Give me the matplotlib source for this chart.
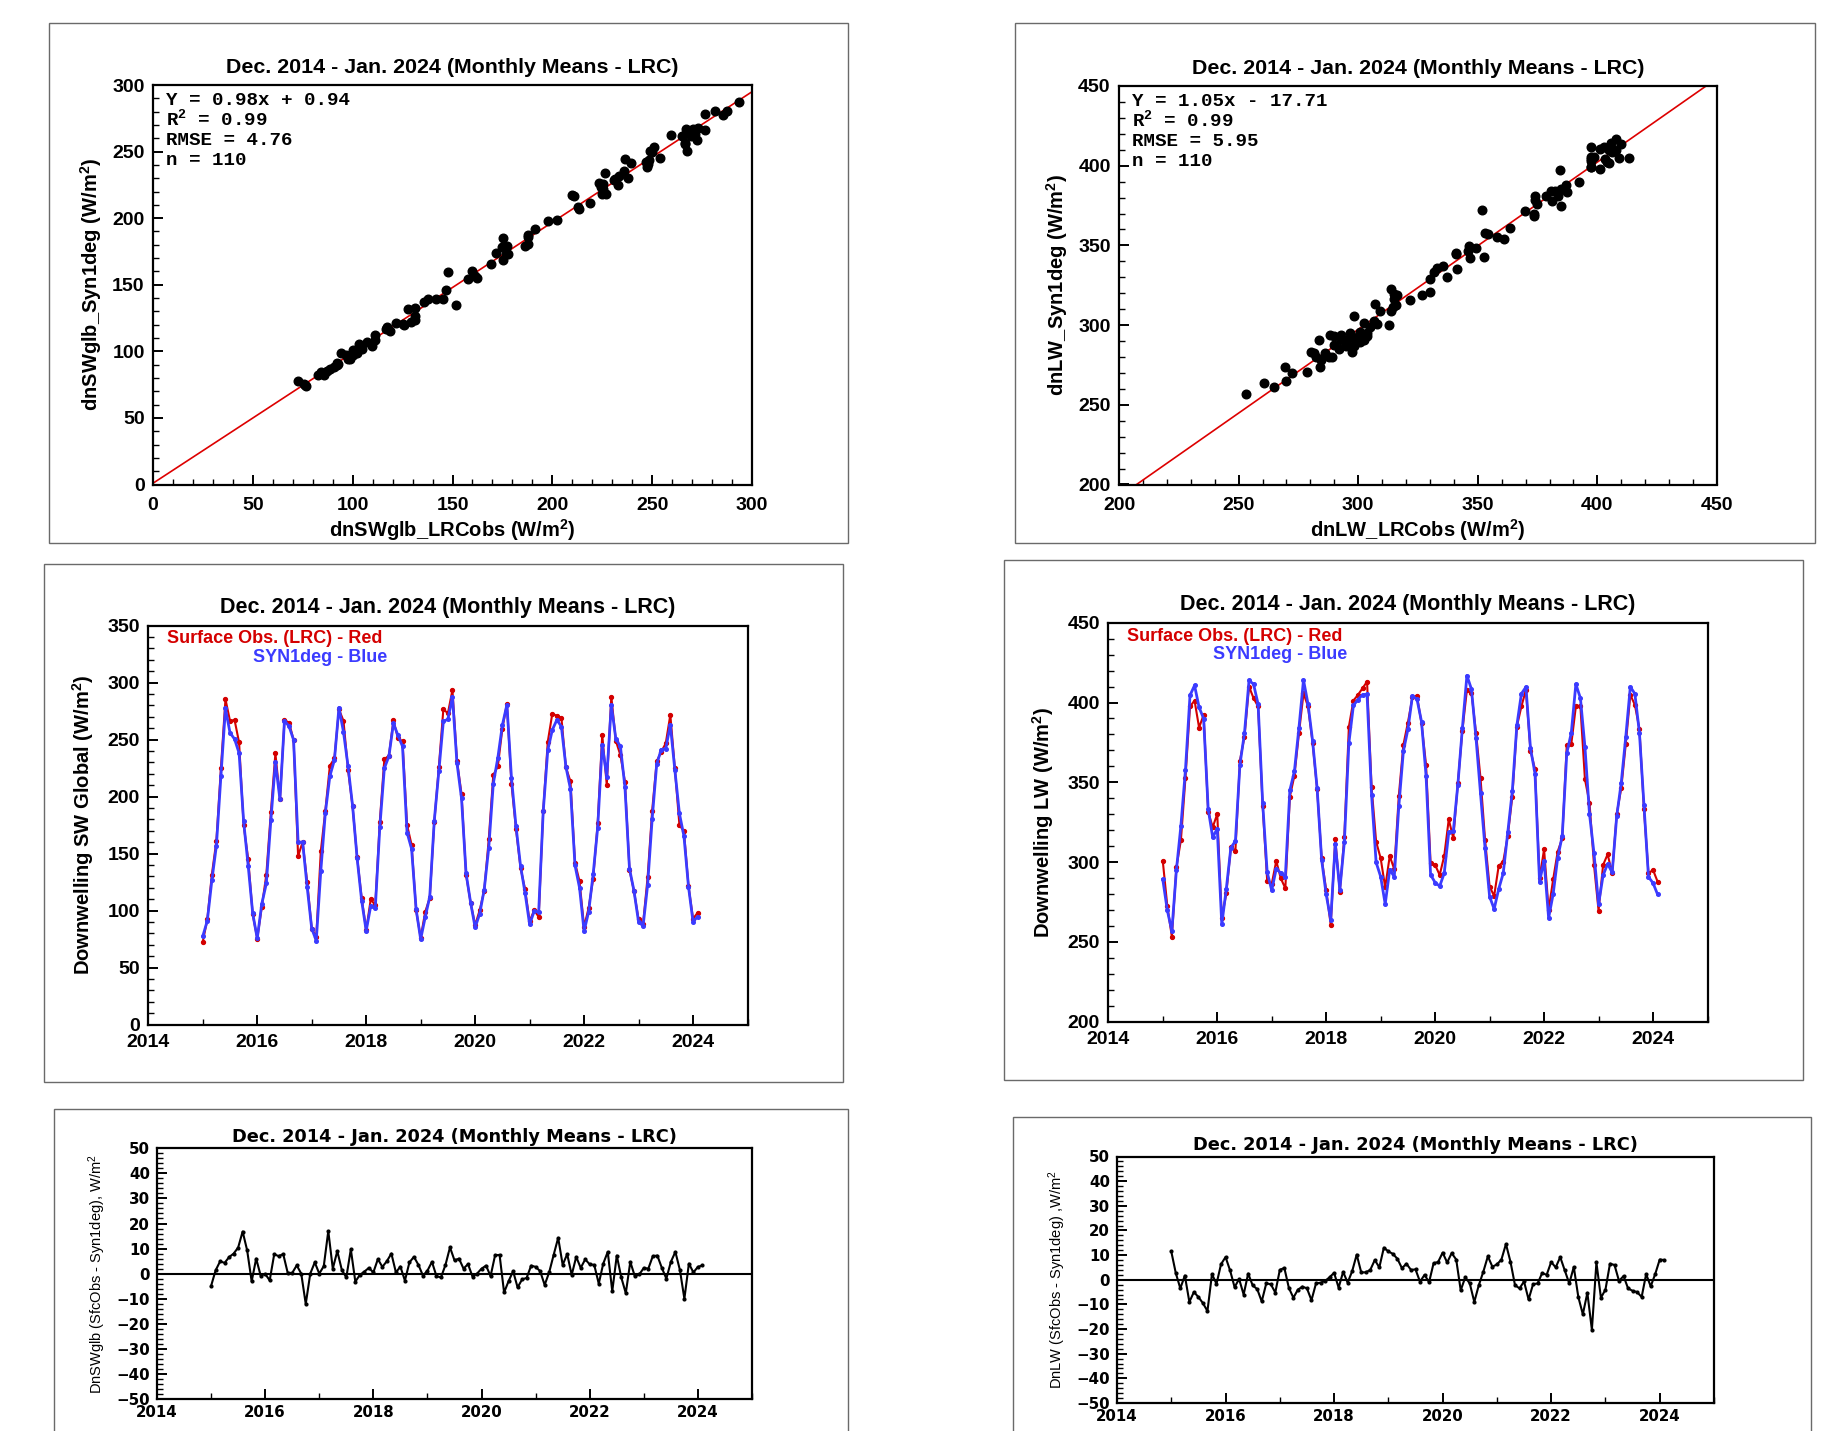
import numpy as np
import pandas as pd
import matplotlib
matplotlib.use('Agg')
import matplotlib.pyplot as plt
from matplotlib.patches import Rectangle
from matplotlib.ticker import MultipleLocator

plt.rcParams['font.family'] = ['Liberation Sans', 'DejaVu Sans']
plt.rcParams['font.weight'] = 'bold'
plt.rcParams['axes.titleweight'] = 'bold'
plt.rcParams['axes.labelweight'] = 'bold'
plt.rcParams['mathtext.default'] = 'regular'

# monthly means, Dec 2014 .. Jan 2024 (n = 110)
months = pd.period_range('2014-12', '2024-01', freq='M')
t = np.asarray(months.year + months.month / 12.0)

# downwelling SW global, surface obs (LRC), W/m2
sw_obs = [72.5, 92.3, 131.4, 161.1, 224.9, 285.3, 266.3, 267.2, 247.4, 175.0,
          145.4, 96.7, 75.4, 103.1, 131.4, 186.2, 237.8, 197.8, 266.9, 264.9,
          249.7, 147.7, 160.0, 125.0, 84.2, 76.6, 151.8, 187.6, 227.0, 233.4,
          276.5, 266.3, 223.5, 191.4, 146.8, 111.0, 82.7, 109.8, 104.6, 178.0,
          232.8, 235.7, 266.9, 250.9, 248.5, 175.1, 157.6, 100.2, 76.0, 98.8,
          111.0, 177.4, 225.5, 276.5, 273.0, 293.4, 231.3, 202.2, 131.4, 107.0,
          87.1, 100.2, 117.4, 162.3, 218.8, 226.4, 259.6, 281.5, 211.0, 171.6,
          137.5, 118.6, 90.6, 100.2, 94.4, 187.6, 248.0, 272.7, 270.7, 269.2,
          225.5, 213.3, 141.9, 125.6, 85.6, 102.2, 127.9, 176.8, 254.1, 210.1,
          287.6, 248.8, 236.3, 213.0, 135.8, 116.8, 92.3, 88.5, 129.4, 187.6,
          230.8, 239.2, 246.8, 271.6, 224.6, 175.1, 169.3, 121.5, 92.9, 97.9]

# SW difference, SfcObs - Syn1deg
sw_diff = [-4.9, 1.3, 4.9, 4.3, 6.6, 8.0, 10.4, 16.8, 9.3, -3.1,
           6.0, -0.8, -0.1, -2.7, 7.7, 7.0, 7.8, 0.3, 0.3, 3.3,
           0.0, -12.1, 0.0, 4.5, 0.0, 3.0, 17.0, 2.0, 9.0, 1.5,
           -1.5, 9.7, -3.2, -0.5, 0.8, 2.3, 0.5, 5.8, 2.7, 5.0,
           8.0, 0.5, 2.8, -2.8, 4.5, 6.7, 3.5, -0.8, 1.2, 4.7,
           -1.0, -1.5, 3.5, 10.5, 5.3, 6.0, 2.0, 3.8, -1.2, 0.0,
           2.0, 3.2, -1.0, 7.3, 7.5, -7.5, -3.0, 1.0, -5.5, -2.3,
           -1.7, 3.2, 2.7, 1.0, -4.5, 0.5, 7.5, 14.3, 3.5, 7.8,
           -0.5, 6.7, 2.3, 5.7, 3.7, 3.5, -4.0, 4.0, 8.7, -7.0,
           7.2, -1.5, -7.8, 4.7, -1.0, -0.3, 2.3, 2.0, 7.0, 7.2,
           2.3, -2.0, 4.7, 8.7, 1.5, -10.0, 4.0, 0.5, 2.7, 3.3]

# downwelling LW, surface obs (LRC), W/m2
lw_obs = [300.7, 272.5, 253.3, 296.7, 313.9, 352.9, 397.5, 401.2, 384.3, 392.2,
          331.6, 321.8, 330.2, 264.8, 280.4, 309.3, 307.2, 363.6, 378.6, 410.0,
          402.7, 397.5, 335.4, 288.4, 286.3, 300.7, 289.8, 283.6, 341.0, 354.2,
          380.7, 405.8, 397.5, 374.9, 345.8, 302.4, 282.5, 260.6, 314.7, 281.5,
          316.0, 384.9, 401.2, 404.8, 408.9, 413.1, 346.9, 312.8, 302.4, 284.2,
          303.8, 295.5, 341.5, 373.4, 387.4, 403.3, 404.1, 387.0, 360.9, 299.2,
          298.2, 291.9, 303.8, 326.8, 314.9, 349.4, 382.4, 407.9, 406.2, 381.2,
          352.5, 313.9, 284.6, 278.8, 297.6, 300.3, 316.4, 341.0, 384.9, 397.5,
          407.9, 369.9, 358.2, 289.8, 308.0, 270.0, 289.2, 306.6, 314.9, 373.4,
          374.1, 397.5, 397.5, 351.9, 337.3, 298.2, 269.6, 298.2, 304.9, 293.0,
          330.2, 346.3, 374.1, 404.8, 398.5, 383.5, 333.1, 293.0, 295.1, 287.8]

# LW difference, SfcObs - Syn1deg
lw_diff = [11.5, 2.7, -3.5, 1.7, -9.0, -5.0, -7.0, -9.5, -12.7, 2.3,
           -1.7, 6.3, 9.2, 3.8, -3.0, 0.3, -6.0, 2.5, -2.3, -3.8,
           -8.8, -1.5, -1.8, -5.2, 4.0, 4.8, -3.3, -7.3, -4.0, -2.8,
           -3.5, -8.3, -1.5, -1.2, -0.5, 1.0, 2.8, -3.2, 3.2, -1.2,
           3.5, 10.2, 3.0, 3.0, 4.0, 8.0, 5.0, 13.0, 11.5, 10.5,
           8.5, 4.7, 6.5, 4.0, 4.2, -0.8, 2.0, -1.0, 6.7, 7.2,
           11.0, 7.0, 10.8, 8.2, -4.3, 1.0, -1.5, -9.0, -2.2, 3.3,
           9.5, 5.3, 6.2, 8.2, 14.5, 7.3, -2.2, -3.5, -0.7, -8.0,
           -1.8, -1.5, 2.7, 2.0, 7.2, 5.0, 9.2, 3.8, -1.5, 5.2,
           -7.0, -14.0, -5.3, -20.3, 7.0, -7.3, -4.0, 6.5, 6.0, -0.5,
           1.5, -3.5, -4.5, -5.0, -7.0, 2.3, -2.7, 2.3, 8.2, 8.0]

sw_obs = np.array(sw_obs)
lw_obs = np.array(lw_obs)
sw_syn = sw_obs - np.array(sw_diff)
lw_syn = lw_obs - np.array(lw_diff)

# regression results printed on the scatter panels
sw_fit = (0.98, 0.94)
lw_fit = (1.05, -17.71)
sw_stats = ['Y = 0.98x + 0.94', 'R$^2$ = 0.99', 'RMSE = 4.76', 'n = 110']
lw_stats = ['Y = 1.05x - 17.71', 'R$^2$ = 0.99', 'RMSE = 5.95', 'n = 110']

title = 'Dec. 2014 - Jan. 2024 (Monthly Means - LRC)'
RED = '#d40000'
BLUE = '#3b3bff'

W, H = 1830, 1431
fig = plt.figure(figsize=(W / 100, H / 100), dpi=100)


def frame(x0, y0, x1, y1):
    fig.add_artist(Rectangle((x0 / W, 1 - y1 / H), (x1 - x0) / W, (y1 - y0) / H,
                             transform=fig.transFigure, fill=False,
                             ec='#6a6a6a', lw=1.0))


def axes_px(left, top, right, bottom):
    return fig.add_axes([left / W, 1 - bottom / H, (right - left) / W, (bottom - top) / H])


def style(ax, fs, xmaj, xmin, ymaj, ymin, xpad, ypad, family=None):
    for s in ax.spines.values():
        s.set_linewidth(1.6)
    ax.xaxis.set_major_locator(MultipleLocator(xmaj))
    ax.xaxis.set_minor_locator(MultipleLocator(xmin))
    ax.yaxis.set_major_locator(MultipleLocator(ymaj))
    ax.yaxis.set_minor_locator(MultipleLocator(ymin))
    ax.tick_params(which='both', direction='in', top=False, right=False)
    ax.tick_params(which='major', length=7, width=1.4, labelsize=fs)
    ax.tick_params(which='minor', length=4, width=1.0)
    ax.tick_params(axis='x', pad=xpad)
    ax.tick_params(axis='y', pad=ypad)
    if family:
        for lab in ax.get_xticklabels() + ax.get_yticklabels():
            lab.set_family(family)


def scatter_panel(ax, obs, syn, fit, stats, lim, xlabel, ylabel):
    lo, hi = lim
    xx = np.array([lo, hi])
    ax.plot(xx, fit[0] * xx + fit[1], color='#dd0000', lw=1.2, zorder=2)
    ax.plot(obs, syn, 'o', color='black', ms=6.2, zorder=3)
    ax.set_xlim(lo, hi)
    ax.set_ylim(lo, hi)
    style(ax, 14, 50, 10, 50, 10, 9, 6)
    ax.set_title(title, fontsize=15.4, pad=8.5)
    ax.set_xlabel(xlabel, fontsize=14.5, labelpad=2)
    ax.set_ylabel(ylabel, fontsize=14.5, labelpad=6)
    for k, s in enumerate(stats):
        ax.text(0.022, 0.949 - 0.0497 * k, s, transform=ax.transAxes,
                family='Liberation Mono', fontweight='bold', fontsize=13.8,
                va='baseline')


def series_panel(ax, obs, syn, ylim, ylabel):
    ax.plot(t, obs, '-o', color=RED, lw=1.5, ms=2.8, zorder=2)
    ax.plot(t, syn, '-o', color=BLUE, lw=2.0, ms=2.6, zorder=3)
    ax.set_xlim(2014, 2025)
    ax.set_ylim(*ylim)
    style(ax, 14, 2, 1, 50, 10, 7, 6)
    ax.set_title(title, fontsize=15.5, pad=9)
    ax.set_ylabel(ylabel, fontsize=14.5, labelpad=8)
    ax.text(0.031, 0.955, 'Surface Obs. (LRC) - Red', transform=ax.transAxes,
            color=RED, fontsize=13, va='baseline')
    ax.text(0.174, 0.909, 'SYN1deg - Blue', transform=ax.transAxes,
            color=BLUE, fontsize=13, va='baseline')


def diff_panel(ax, diff, ylabel):
    ax.axhline(0, color='black', lw=1.5, zorder=2)
    ax.plot(t, diff, '-o', color='black', lw=1.5, ms=2.0, zorder=3)
    ax.set_xlim(2014, 2025)
    ax.set_ylim(-50, 50)
    style(ax, 10.8, 2, 1, 10, 2, 4.2, 5, family='DejaVu Sans')
    ax.set_title(title, fontsize=12.8, pad=4.5, family='DejaVu Sans')
    ax.set_ylabel(ylabel, fontsize=10.5, fontweight='normal', labelpad=6)


# panel frames
frame(49, 23, 848, 543)
frame(1015, 23, 1815, 543)
frame(44, 564, 843, 1082)
frame(1004, 560, 1803, 1080)
frame(54, 1109, 848, 1440)
frame(1013, 1117, 1811, 1440)

ax1 = axes_px(153, 85, 752, 484.5)
scatter_panel(ax1, sw_obs, sw_syn, sw_fit, sw_stats, (0, 300),
              'dnSWglb_LRCobs (W/m$^2$)', 'dnSWglb_Syn1deg (W/m$^2$)')

ax2 = axes_px(1119, 86, 1717, 484.5)
scatter_panel(ax2, lw_obs, lw_syn, lw_fit, lw_stats, (200, 450),
              'dnLW_LRCobs (W/m$^2$)', 'dnLW_Syn1deg (W/m$^2$)')

ax3 = axes_px(148.3, 625.5, 747.5, 1024.5)
series_panel(ax3, sw_obs, sw_syn, (0, 350), 'Downwelling SW Global (W/m$^2$)')

ax4 = axes_px(1108.3, 622.7, 1707.5, 1021.7)
series_panel(ax4, lw_obs, lw_syn, (200, 450), 'Downwelling LW (W/m$^2$)')

ax5 = axes_px(157, 1148.3, 752, 1399)
diff_panel(ax5, sw_diff, 'DnSWglb (SfcObs - Syn1deg), W/m$^2$')

ax6 = axes_px(1117, 1156.5, 1714, 1403)
diff_panel(ax6, lw_diff, 'DnLW (SfcObs - Syn1deg) ,W/m$^2$')

fig.savefig('out.png', dpi=100, facecolor='white')
